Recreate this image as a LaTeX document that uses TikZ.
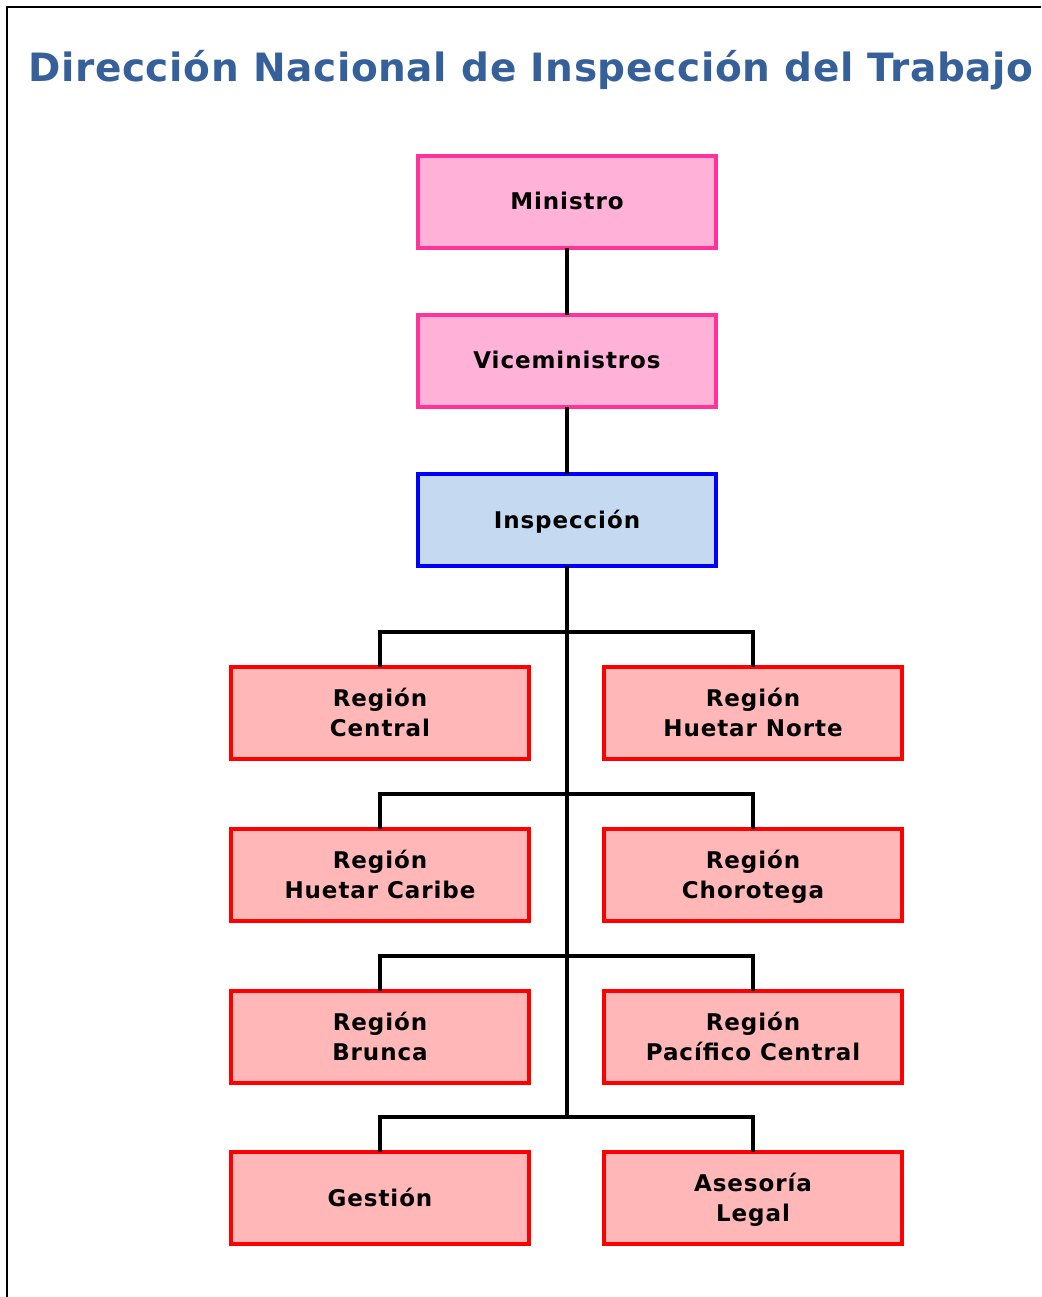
\documentclass[tikz,border=0pt]{standalone}
\usepackage{fontspec}
\setmainfont{DejaVu Sans}
\newfontfamily\widefont[LetterSpace=4]{DejaVu Sans}
\newfontfamily\titlefont[LetterSpace=1.6]{DejaVu Sans}
\usepackage{tikz}

\definecolor{titleblue}{HTML}{36609A}
\definecolor{pinkfill}{HTML}{FFB1D8}
\definecolor{pinkline}{HTML}{FF3399}
\definecolor{bluefill}{HTML}{C5D9F1}
\definecolor{redfill}{HTML}{FFB7B7}

\begin{document}
\begin{tikzpicture}[x=0.5pt, y=-0.5pt,
  every node/.style={minimum width=149pt, minimum height=46pt, outer sep=0pt, line width=2pt, align=center, text depth=1pt, font=\widefont\fontsize{11.5}{15}\selectfont\bfseries},
  mbox/.style={draw=pinkline, fill=pinkfill},
  ibox/.style={draw=blue, fill=bluefill},
  rbox/.style={draw=red, fill=redfill},
  link/.style={line width=2pt, black}]
\useasboundingbox (0,0) rectangle (1041,1297);
\draw[line width=1pt] (1041,7) -- (7,7) -- (7,1297);

\node[minimum width=0pt, minimum height=0pt, text depth=0pt, text=titleblue, font=\titlefont\fontsize{19.5}{23}\selectfont\bfseries] (title) at (531,66) {Dirección Nacional de Inspección del Trabajo};

\node[mbox] (ministro) at (567,202) {Ministro};
\node[mbox] (vice) at (567,361) {Viceministros};
\node[ibox] (insp) at (567,520) {Inspección};

\node[rbox] (central) at (380,713) {Región\\Central};
\node[rbox] (norte) at (753,713) {Región\\Huetar Norte};
\node[rbox] (caribe) at (380,875) {Región\\Huetar Caribe};
\node[rbox] (chorotega) at (753,875) {Región\\Chorotega};
\node[rbox] (brunca) at (380,1037) {Región\\Brunca};
\node[rbox] (pacifico) at (753,1037) {Región\\Pacífico Central};
\node[rbox] (gestion) at (380,1198) {Gestión};
\node[rbox] (asesoria) at (753,1198) {Asesoría\\Legal};

\coordinate (b1) at (567,632);
\coordinate (b2) at (567,794);
\coordinate (b3) at (567,956);
\coordinate (b4) at (567,1117);

\draw[link] (ministro) -- (vice);
\draw[link] (vice) -- (insp);
\draw[link] (insp) -- (b4);
\draw[link] (central) |- (b1) -| (norte);
\draw[link] (caribe) |- (b2) -| (chorotega);
\draw[link] (brunca) |- (b3) -| (pacifico);
\draw[link] (gestion) |- (b4) -| (asesoria);
\end{tikzpicture}
\end{document}
